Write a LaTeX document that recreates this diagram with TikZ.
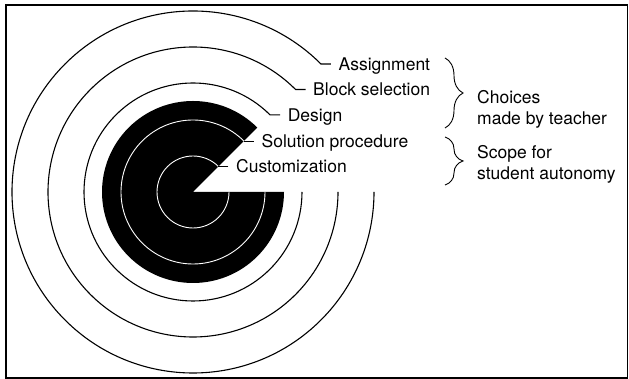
\documentclass[tikz,border=0pt]{standalone}
\usepackage{fontspec}
\setmainfont{TeX Gyre Heros}
\usetikzlibrary{calc,decorations.pathreplacing}
\tikzset{
  ring/.style={line width=1.1pt},
  whitering/.style={white,line width=0.9pt},
  lbl/.style={anchor=west,inner xsep=7.5pt,inner ysep=0pt,text height=12.5pt,text depth=0pt},
  grp/.style={anchor=west,align=left,inner sep=0pt},
  brc/.style={decorate,decoration={brace,amplitude=18pt},line width=0.9pt}
}
\begin{document}
\begin{tikzpicture}[x=1pt,y=1pt,font=\fontsize{17.5}{20.7}\selectfont]
        \useasboundingbox (0,0) rectangle (629,379);
        \draw[line width=1.5pt] (6,1.2) rectangle (627.5,374);
        \coordinate (ctr) at (193,187);
        \fill (ctr) -- ($(ctr)+(45:91pt)$) arc[start angle=45,end angle=360,radius=91pt] -- cycle;
        \coordinate (e1) at ($(ctr)+(45:181pt)$);
        \coordinate (e2) at ($(ctr)+(45:145pt)$);
        \coordinate (e3) at ($(ctr)+(45:109pt)$);
        \coordinate (e4) at ($(ctr)+(45:72pt)$);
        \coordinate (e5) at ($(ctr)+(45:36pt)$);
        \node[lbl] (asg) at ($(e1)+(10,0)$) {Assignment};
        \node[lbl] (blk) at ($(e2)+(10,0)$) {Block selection};
        \node[lbl] (dsg) at ($(e3)+(10,0)$) {Design};
        \node[lbl] (sol) at ($(e4)+(10,0)$) {Solution procedure};
        \node[lbl] (cst) at ($(e5)+(10,0)$) {Customization};
        \draw[ring] (asg.west) -- (e1) arc[start angle=45,end angle=360,radius=181pt];
        \draw[ring] (blk.west) -- (e2) arc[start angle=45,end angle=360,radius=145pt];
        \draw[ring] (dsg.west) -- (e3) arc[start angle=45,end angle=360,radius=109pt];
        \draw[whitering] (e4) arc[start angle=45,end angle=360,radius=72pt];
        \draw[whitering] (e5) arc[start angle=45,end angle=360,radius=36pt];
        \draw[ring] (sol.west) -- (e4);
        \draw[ring] (cst.west) -- (e5);
        \coordinate (b1t) at (445,321);
        \coordinate (b1b) at (445,251);
        \coordinate (b2t) at (445,242);
        \coordinate (b2b) at (445,194);
        \draw[brc] (b1t) -- (b1b);
        \draw[brc] (b2t) -- (b2b);
        \node[grp] (tch) at (477,269.8) {Choices\\made by teacher};
        \node[grp] (stu) at (477,214.8) {Scope for\\student autonomy};
\end{tikzpicture}
\end{document}
